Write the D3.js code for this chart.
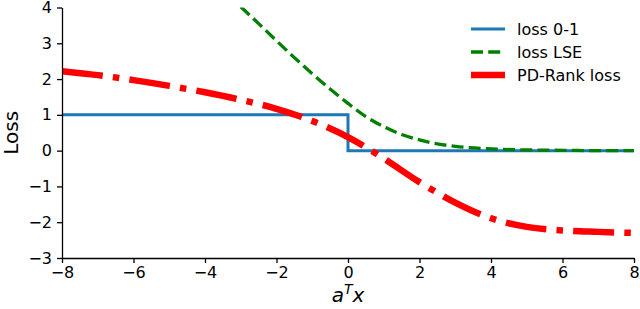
<!DOCTYPE html>
<html>
<head>
<meta charset="utf-8">
<script src="https://cdn.jsdelivr.net/npm/d3@7"></script>
<style>
  html, body { margin: 0; padding: 0; background: #fff; }
  svg { display: block; font-family: "DejaVu Sans", sans-serif; }
</style>
</head>
<body>
<svg id="chart" width="640" height="309"></svg>
<script>
// ---- data ----
const stepX = [-8, 0, 8];
const loss01 = [1, 0, 0];

const lseX = [-3, -2.5, -2, -1.5, -1, -0.5, 0, 0.5, 1, 1.5, 2, 2.5, 3, 4, 5, 6, 7, 8];
const lossLSE = [4.02, 3.55, 3.07, 2.60, 2.15, 1.72, 1.32, 0.95, 0.67, 0.45, 0.30, 0.19, 0.12, 0.05, 0.02, 0.01, 0.0, 0.0];

const rankX = [-8, -7, -6, -5, -4, -3, -2, -1, 0, 1, 2, 3, 4, 5, 6, 7, 8];
const lossRank = [2.22, 2.11, 1.97, 1.81, 1.63, 1.42, 1.17, 0.83, 0.38, -0.22, -0.88, -1.45, -1.89, -2.13, -2.23, -2.27, -2.30];

const xTicks = [-8, -6, -4, -2, 0, 2, 4, 6, 8];
const yTicks = [-3, -2, -1, 0, 1, 2, 3, 4];
const seriesNames = ["loss 0-1", "loss LSE", "PD-Rank loss"];

// ---- layout ----
const svg = d3.select("#chart");
const L = 62, R = 634, T = 7.5, B = 258;
const x = d3.scaleLinear().domain([-8, 8]).range([L, R]);
const y = d3.scaleLinear().domain([-3, 4]).range([B, T]);

svg.append("defs").append("clipPath").attr("id", "plotclip")
  .append("rect").attr("x", L).attr("y", T).attr("width", R - L).attr("height", B - T);

const g = svg.append("g").attr("clip-path", "url(#plotclip)");

const zip = (xs, ys) => xs.map((v, i) => [v, ys[i]]);

// loss 0-1 (step)
g.append("path")
  .datum(zip(stepX, loss01))
  .attr("fill", "none").attr("stroke", "#1f77b4").attr("stroke-width", 3)
  .attr("d", d3.line().x(d => x(d[0])).y(d => y(d[1])).curve(d3.curveStepAfter));

// loss LSE (dashed green)
g.append("path")
  .datum(zip(lseX, lossLSE))
  .attr("fill", "none").attr("stroke", "#008000").attr("stroke-width", 3.3)
  .attr("stroke-dasharray", "12,5.2")
  .attr("d", d3.line().x(d => x(d[0])).y(d => y(d[1])).curve(d3.curveMonotoneX));

// PD-Rank loss (dash-dot red)
g.append("path")
  .datum(zip(rankX, lossRank))
  .attr("fill", "none").attr("stroke", "#ff0000").attr("stroke-width", 6.5)
  .attr("stroke-dasharray", "41,10.2,6.5,10.2")
  .attr("d", d3.line().x(d => x(d[0])).y(d => y(d[1])).curve(d3.curveMonotoneX));

// ---- axes ----
const fmt = d3.format("d");
const xAxis = svg.append("g").attr("transform", `translate(0,${B})`)
  .call(d3.axisBottom(x).tickValues(xTicks).tickFormat(fmt).tickSize(5).tickSizeOuter(0).tickPadding(4));
const yAxis = svg.append("g").attr("transform", `translate(${L},0)`)
  .call(d3.axisLeft(y).tickValues(yTicks).tickFormat(fmt).tickSize(5).tickSizeOuter(0).tickPadding(5));

[xAxis, yAxis].forEach(a => {
  a.select(".domain").attr("stroke", "#000").attr("stroke-width", 1.3);
  a.selectAll(".tick line").attr("stroke", "#000").attr("stroke-width", 1.3);
  a.selectAll(".tick text").attr("fill", "#000")
    .style("font-family", "'DejaVu Sans', sans-serif").style("font-size", "16px");
});

// axis labels
svg.append("text")
  .attr("transform", `translate(18,${(T + B) / 2}) rotate(-90)`)
  .attr("text-anchor", "middle")
  .style("font-size", "20px").attr("fill", "#000")
  .text("Loss");

const xl = svg.append("text")
  .attr("x", (L + R) / 2).attr("y", 302)
  .attr("text-anchor", "middle")
  .style("font-size", "20px").style("font-style", "italic").attr("fill", "#000");
xl.append("tspan").text("a");
xl.append("tspan").attr("dy", -8).style("font-size", "14px").text("T");
xl.append("tspan").attr("dy", 8).text("x");

// ---- legend ----
const legendItems = [
  { name: seriesNames[0], color: "#1f77b4", width: 3, dash: null },
  { name: seriesNames[1], color: "#008000", width: 3.3, dash: "12,5.2" },
  { name: seriesNames[2], color: "#ff0000", width: 6.5, dash: null }
];
const lg = svg.append("g");
legendItems.forEach((it, i) => {
  const yy = 29 + i * 23;
  lg.append("line").attr("x1", 471).attr("x2", 505).attr("y1", yy).attr("y2", yy)
    .attr("stroke", it.color).attr("stroke-width", it.width)
    .attr("stroke-dasharray", it.dash);
  lg.append("text").attr("x", 517).attr("y", yy).attr("dy", "0.36em")
    .style("font-size", "16px").attr("fill", "#000").text(it.name);
});
</script>
</body>
</html>
